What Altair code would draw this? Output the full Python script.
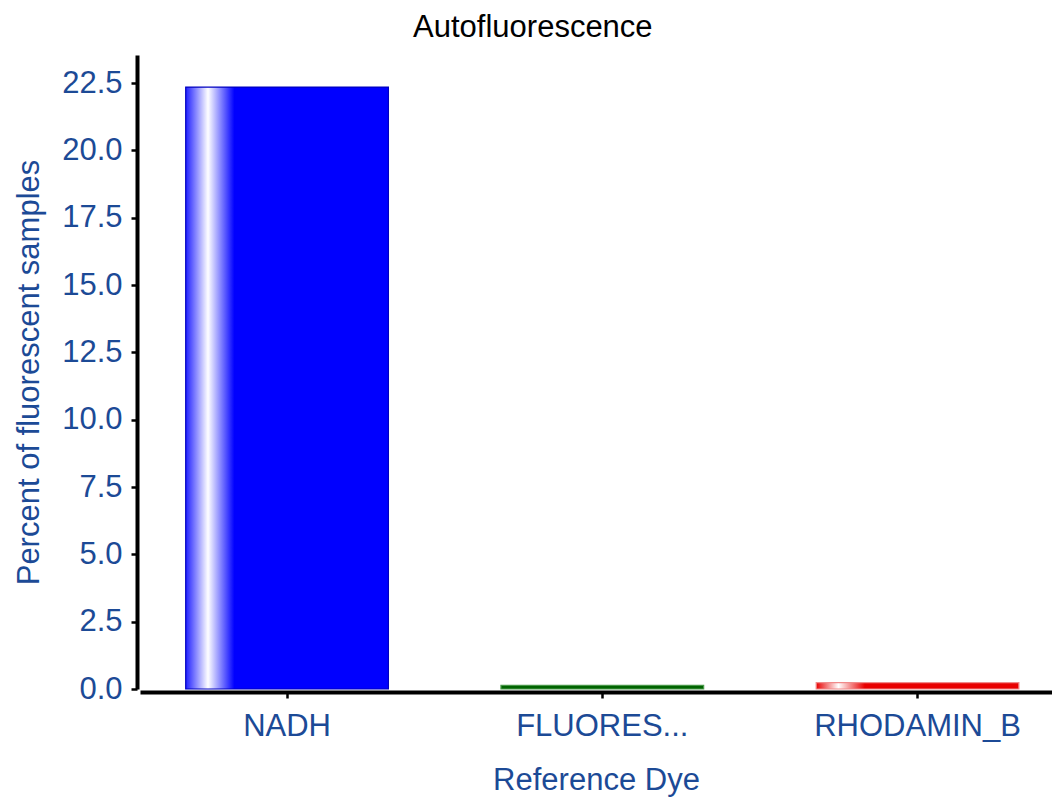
import altair as alt
import pandas as pd

categories = ["NADH", "FLUORES...", "RHODAMIN_B"]
values = [22.35, 0.14, 0.24]

df = pd.DataFrame({"dye": categories, "pct": values})

FONT = "Liberation Sans"
LABEL_COLOR = "#1C4A96"

def grad(edge, hi, main):
    return alt.Gradient(
        gradient="linear",
        stops=[
            alt.GradientStop(offset=0.0, color=edge),
            alt.GradientStop(offset=0.11, color=hi),
            alt.GradientStop(offset=0.24, color=main),
            alt.GradientStop(offset=1.0, color=main),
        ],
        x1=0, x2=1, y1=0, y2=0,
    )

styles = {
    "NADH": dict(fill=grad("#2020ff", "#ffffff", "#0000ff"), stroke="#0000c0"),
    "FLUORES...": dict(fill="#006400", stroke="#4a9a4a"),
    "RHODAMIN_B": dict(fill=grad("#e80000", "#ffffff", "#e80000"), stroke="#f08a8a"),
}

x_enc = alt.X(
    "dye:N",
    sort=categories,
    title="Reference Dye",
    scale=alt.Scale(paddingInner=0.357, paddingOuter=0.125, align=0.58),
    axis=alt.Axis(labelAngle=0, offset=3, labelPadding=13, titlePadding=24, labelLimit=0),
)
y_enc = alt.Y(
    "pct:Q",
    title="Percent of fluorescent samples",
    scale=alt.Scale(domain=[0, 23.54], nice=False, zero=True),
    axis=alt.Axis(
        values=[0, 2.5, 5, 7.5, 10, 12.5, 15, 17.5, 20, 22.5],
        format=".1f",
        offset=3,
        labelPadding=9,
        titlePadding=16,
    ),
)

base = alt.Chart(df).encode(x=x_enc, y=y_enc)

layers = []
for c in categories:
    st = styles[c]
    layers.append(
        base.transform_filter(alt.datum.dye == c).mark_bar(
            fill=st["fill"], stroke=st["stroke"], strokeWidth=1.2
        )
    )

chart = (
    alt.layer(*layers)
    .properties(
        width=912,
        height=634,
        autosize=alt.AutoSizeParams(type="none"),
        padding={"left": 132, "top": 47, "right": 0, "bottom": 108},
        title=alt.TitleParams(
            "Autofluorescence",
            font=FONT,
            fontSize=31,
            fontWeight="normal",
            color="black",
            anchor="middle",
            frame="bounds",
            offset=11,
        ),
    )
    .configure_view(stroke=None)
    .configure_axis(
        grid=False,
        domainColor="black",
        domainWidth=4,
        tickColor="black",
        tickWidth=2.5,
        tickSize=6,
        labelFont=FONT,
        labelFontSize=31,
        labelColor=LABEL_COLOR,
        titleFont=FONT,
        titleFontSize=31,
        titleFontWeight="normal",
        titleColor=LABEL_COLOR,
    )
)

chart.save("out.html", embed_options={"renderer": "svg", "actions": False})
